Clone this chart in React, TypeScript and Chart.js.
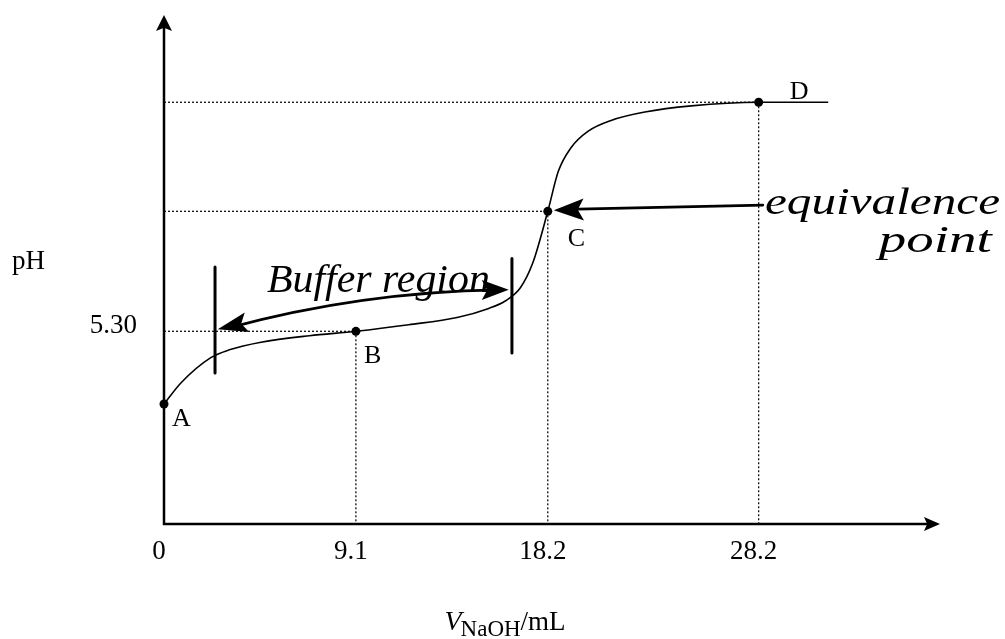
import { useEffect, useRef } from 'react';
import { Chart, registerables } from 'chart.js';

Chart.register(...registerables);

// ---- data ----
const curveVolume = [0, 0.8, 2.2, 3.1, 4.6, 6.9, 9.1, 11.6, 13.9, 15.4, 16.2, 16.9, 17.5, 18.2, 18.7, 19.3, 20.1, 21.2, 22.8, 25.0, 28.2, 31.5];
const curvePH = [3.3, 3.88, 4.57, 4.79, 5.0, 5.18, 5.3, 5.48, 5.68, 5.93, 6.14, 6.5, 7.2, 8.6, 9.7, 10.35, 10.8, 11.1, 11.33, 11.5, 11.6, 11.6];

const pointLabels = ['A', 'B', 'C', 'D'];
const pointVolume = [0, 9.1, 18.2, 28.2];
const pointPH = [3.3, 5.3, 8.6, 11.6];

const xTickValues = [0, 9.1, 18.2, 28.2];
const xTickLabels = ['0', '9.1', '18.2', '28.2'];
const yTickValues = [5.3];
const yTickLabels = ['5.30'];

const xAxisTitle = { main: 'V', sub: 'NaOH', rest: '/mL' };
const yAxisTitle = 'pH';
const bufferText = 'Buffer region';
const equivText = ['equivalence', 'point'];

const SERIF = '"Liberation Serif", "Times New Roman", serif';

function fitText(ctx: CanvasRenderingContext2D, text: string, x: number, y: number, width: number, font: string) {
  ctx.font = font;
  const w = ctx.measureText(text).width;
  ctx.save();
  ctx.translate(x, y);
  ctx.scale(width / w, 1);
  ctx.textAlign = 'left';
  ctx.textBaseline = 'alphabetic';
  ctx.fillText(text, 0, 0);
  ctx.restore();
}

function arrowHead(ctx: CanvasRenderingContext2D, tipX: number, tipY: number, fromX: number, fromY: number, len: number, half: number) {
  const a = Math.atan2(tipY - fromY, tipX - fromX);
  const c = Math.cos(a), s = Math.sin(a);
  ctx.beginPath();
  ctx.moveTo(tipX, tipY);
  ctx.lineTo(tipX - len * c + half * s, tipY - len * s - half * c);
  ctx.lineTo(tipX - len * c * 0.8, tipY - len * s * 0.8);
  ctx.lineTo(tipX - len * c - half * s, tipY - len * s + half * c);
  ctx.closePath();
  ctx.fill();
}

const decorPlugin = {
  id: 'titrationDecor',
  beforeDatasetsDraw(chart: any) {
    const { ctx, chartArea: ca, scales } = chart;
    const xs = scales.x, ys = scales.y;
    const x0 = xs.getPixelForValue(0);
    const y0 = ys.getPixelForValue(0);
    ctx.save();
    // dotted guide lines
    ctx.strokeStyle = '#111';
    ctx.lineWidth = 1.3;
    ctx.setLineDash([2, 2]);
    for (let i = 1; i < pointVolume.length; i++) {
      const px = xs.getPixelForValue(pointVolume[i]);
      const py = ys.getPixelForValue(pointPH[i]);
      ctx.beginPath();
      ctx.moveTo(x0, py);
      ctx.lineTo(px, py);
      ctx.stroke();
      ctx.beginPath();
      ctx.moveTo(px, py);
      ctx.lineTo(px, y0);
      ctx.stroke();
    }
    ctx.setLineDash([]);
    // axes with arrows
    ctx.strokeStyle = '#000';
    ctx.fillStyle = '#000';
    ctx.lineWidth = 2.5;
    ctx.beginPath();
    ctx.moveTo(x0, y0 + 1);
    ctx.lineTo(x0, ca.top + 12);
    ctx.stroke();
    arrowHead(ctx, x0, ca.top, x0, ca.top + 20, 16, 8);
    ctx.beginPath();
    ctx.moveTo(x0 - 1, y0);
    ctx.lineTo(ca.right - 12, y0);
    ctx.stroke();
    arrowHead(ctx, ca.right, y0, ca.right - 20, y0, 16, 7);

    // tick labels
    ctx.font = `27px ${SERIF}`;
    ctx.textAlign = 'center';
    ctx.textBaseline = 'middle';
    xTickValues.forEach((v, i) => {
      ctx.fillText(xTickLabels[i], xs.getPixelForValue(v) - 5, y0 + 28);
    });
    ctx.textAlign = 'right';
    yTickValues.forEach((v, i) => {
      ctx.fillText(yTickLabels[i], x0 - 27, ys.getPixelForValue(v) - 5);
    });
    // axis titles
    ctx.textAlign = 'left';
    ctx.fillText(yAxisTitle, 12, ys.getPixelForValue(7.2));
    ctx.textBaseline = 'alphabetic';
    let tx = xs.getPixelForValue(13.3);
    const tb = y0 + 106;
    ctx.font = `italic 28px ${SERIF}`;
    ctx.fillText(xAxisTitle.main, tx, tb);
    tx += ctx.measureText(xAxisTitle.main).width - 1;
    ctx.font = `23px ${SERIF}`;
    ctx.fillText(xAxisTitle.sub, tx, tb + 6);
    tx += ctx.measureText(xAxisTitle.sub).width;
    ctx.font = `27px ${SERIF}`;
    ctx.fillText(xAxisTitle.rest, tx, tb);
    ctx.restore();
  },
  afterDatasetsDraw(chart: any) {
    const { ctx, scales } = chart;
    const xs = scales.x, ys = scales.y;
    const bx = (v: number) => xs.getPixelForValue(v);
    const by = (v: number) => ys.getPixelForValue(v);
    ctx.save();
    ctx.fillStyle = '#000';
    ctx.strokeStyle = '#000';

    // point labels
    const offs = [[8, 22], [8, 32], [20, 35], [31, -3]];
    ctx.font = `26px ${SERIF}`;
    ctx.textAlign = 'left';
    ctx.textBaseline = 'alphabetic';
    pointLabels.forEach((lab, i) => {
      ctx.fillText(lab, bx(pointVolume[i]) + offs[i][0], by(pointPH[i]) + offs[i][1]);
    });

    // buffer region bars
    ctx.lineWidth = 3;
    ctx.lineCap = 'round';
    ctx.beginPath();
    ctx.moveTo(bx(2.42), by(7.07));
    ctx.lineTo(bx(2.42), by(4.15));
    ctx.moveTo(bx(16.5), by(7.3));
    ctx.lineTo(bx(16.5), by(4.7));
    ctx.stroke();

    // double arrow
    const L = [bx(2.55), by(5.36)];
    const R = [bx(16.35), by(6.44)];
    const Q = [bx(9.3), by(6.38)];
    ctx.lineWidth = 2.6;
    ctx.beginPath();
    ctx.moveTo(L[0] + 10, L[1] - 1);
    ctx.quadraticCurveTo(Q[0], Q[1], R[0] - 10, R[1]);
    ctx.stroke();
    arrowHead(ctx, L[0], L[1], Q[0], Q[1] + 4, 30, 10);
    arrowHead(ctx, R[0], R[1], Q[0], Q[1] - 2, 27, 10);

    // handwritten buffer text
    fitText(ctx, bufferText, bx(4.88), by(6.38), 223, `italic 40px ${SERIF}`);

    // equivalence arrow
    const cx = bx(pointVolume[2]) + 6;
    const cy = by(pointPH[2]) - 1;
    const sx = bx(28.4), sy = by(8.77);
    ctx.lineWidth = 2.6;
    ctx.beginPath();
    ctx.moveTo(sx, sy);
    ctx.lineTo(cx + 12, cy - 1);
    ctx.stroke();
    arrowHead(ctx, cx, cy, sx, sy, 30, 11);

    fitText(ctx, equivText[0], bx(28.5), by(8.53), 235, `italic 37px ${SERIF}`);
    fitText(ctx, equivText[1], bx(33.9), by(7.48), 113, `italic 37px ${SERIF}`);
    ctx.restore();
  },
};

export default function App() {
  const ref = useRef<HTMLCanvasElement | null>(null);
  useEffect(() => {
    if (!ref.current) return;
    const chart = new Chart(ref.current, {
      type: 'line',
      data: {
        datasets: [
          {
            label: 'pH',
            data: curveVolume.map((v, i) => ({ x: v, y: curvePH[i] })),
            borderColor: '#000',
            borderWidth: 1.6,
            pointRadius: 0,
            cubicInterpolationMode: 'monotone',
            fill: false,
            clip: false,
          },
          {
            label: 'points',
            data: pointVolume.map((v, i) => ({ x: v, y: pointPH[i] })),
            showLine: false,
            pointRadius: 4.5,
            pointBackgroundColor: '#000',
            pointBorderColor: '#000',
            pointBorderWidth: 0,
            clip: false,
          },
        ],
      },
      options: {
        animation: false,
        responsive: false,
        layout: { padding: { left: 164, right: 65, top: 15, bottom: 115 } },
        scales: {
          x: { type: 'linear', min: 0, max: 36.8, display: false },
          y: { type: 'linear', min: 0, max: 14, display: false },
        },
        plugins: { legend: { display: false }, tooltip: { enabled: false } },
      },
      plugins: [decorPlugin],
    } as any);
    return () => chart.destroy();
  }, []);
  return (
    <div style={{ position: 'absolute', left: 0, top: 0, width: 1005, height: 639, background: '#fff' }}>
      <canvas ref={ref} width={1005} height={639} />
    </div>
  );
}
